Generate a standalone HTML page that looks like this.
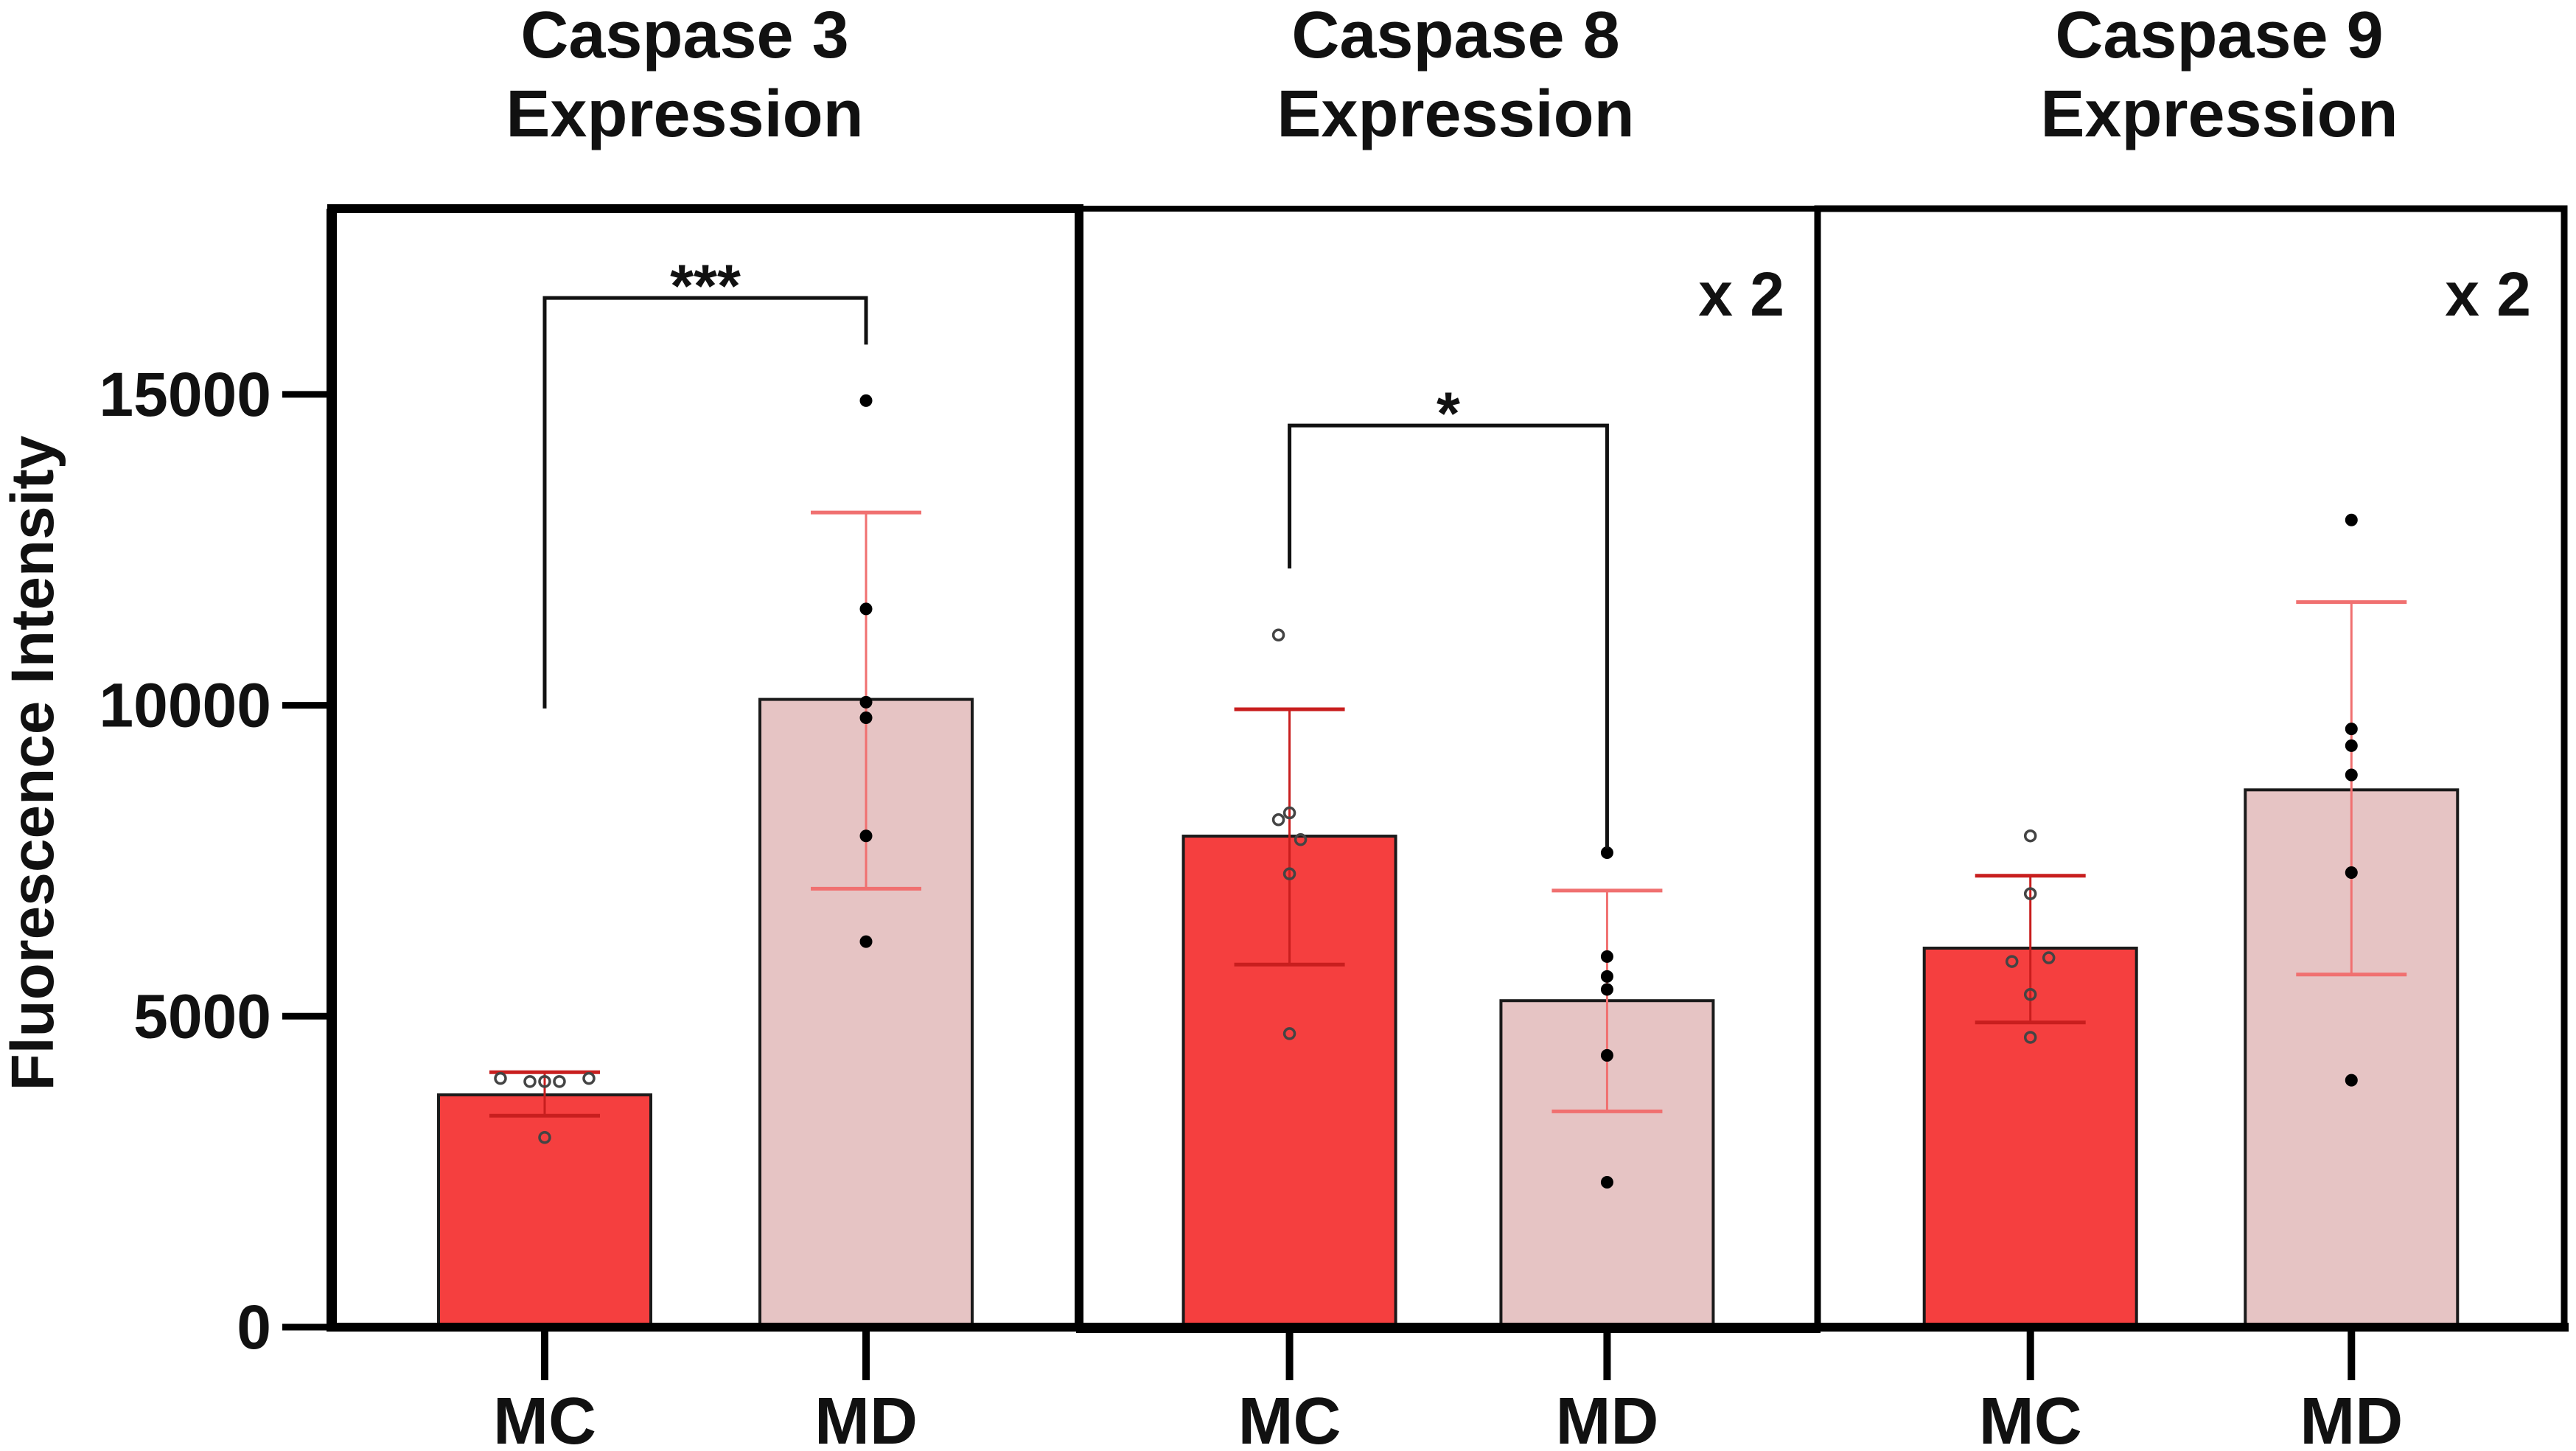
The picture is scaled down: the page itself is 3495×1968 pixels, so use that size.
<!DOCTYPE html>
<html><head><meta charset="utf-8"><style>
html,body{margin:0;padding:0;background:#fff;}
svg{display:block;}
text{font-family:"Liberation Sans",sans-serif;}
</style></head><body>
<svg id="chart" width="3495" height="1968" viewBox="0 0 3495 1968" xmlns="http://www.w3.org/2000/svg"></svg>
<script>
const panelTitles = ["Caspase 3", "Caspase 8", "Caspase 9"];
const groups = ["MC", "MD"];
const barMeans = [[3736, 10095], [7896, 5250], [6095, 8640]];
const errUpper = [[4100, 13100], [9936, 7020], [7260, 11660]];
const errLower = [[3400, 7050], [5830, 3470], [4900, 5670]];
const pointsMC = [[4000, 3950, 3950, 3950, 4000, 3050], [11130, 8270, 8160, 7840, 7290, 4720], [7900, 6970, 5880, 5940, 5350, 4660]];
const pointsMD = [[14900, 11550, 10050, 9800, 7900, 6200], [7630, 5960, 5640, 5430, 4370, 2330], [12980, 9620, 9350, 8880, 7310, 3970]];
const pointOffsets = [[-60, -20, 0, 20, 60, 0], [-15, 0, -15, 15, 0, 0], [0, 0, -25, 25, 0, 0]];
const yTicks = [0, 5000, 10000, 15000];
const yTickLabels = ["0", "5000", "10000", "15000"];
const brackets = [{panel:0, top:16550, left:9950, right:15800, label:"***"}, {panel:1, top:14500, left:12200, right:7700, label:"*"}];
const multLabels = ["", "x 2", "x 2"];

const svg = document.getElementById('chart');
const NS = "http://www.w3.org/2000/svg";
const Y0 = 1800, PER = 421.7/5000;
function y(v){ return Y0 - v*PER; }
const panelLeft = [450, 1464, 2466];
const panelRight = [1464, 2466, 3479];
const titleX = [929, 1975, 3011];
function xc(p, g){ const w = panelRight[p]-panelLeft[p]; return panelLeft[p] + w*(g===0 ? 0.285 : 0.715); }
const BW = 288;
function mk(tag, attrs, txt){ const e = document.createElementNS(NS, tag); for (const k in attrs) e.setAttribute(k, attrs[k]); if (txt!==undefined) e.textContent = txt; svg.appendChild(e); return e; }

panelTitles.forEach((t,p)=>{
  const cx = titleX[p];
  const a = mk('text',{x:cx,y:78,'text-anchor':'middle','font-size':90,'font-weight':'bold',fill:'#111'},t);
  
  
  const b = mk('text',{x:cx,y:185,'text-anchor':'middle','font-size':90,'font-weight':'bold',fill:'#111'},'Expression');
  
  
});

const yt = mk('text',{x:0,y:0,transform:'translate(72,1035) rotate(-90)','text-anchor':'middle','font-size':82,'font-weight':'bold',fill:'#111'},'Fluorescence Intensity');



yTicks.forEach((v,i)=>{
  const l = mk('line',{x1:383,x2:452,y1:y(v),y2:y(v),stroke:'#000','stroke-width':9});
  
  
  const t = mk('text',{x:368,y:y(v)+29,'text-anchor':'end','font-size':84,'font-weight':'bold',fill:'#111'},yTickLabels[i]);
  
  
});

for (let p=0;p<3;p++){
  for (let g=0; g<2; g++){
    const cx = xc(p,g);
    const r = mk('rect',{x:cx-BW/2,y:y(barMeans[p][g]),width:BW,height:Y0-y(barMeans[p][g]),fill:g===0?'#f53f3f':'#e6c4c4',stroke:'#1a1a1a','stroke-width':4});
    
    
    const ec = g===0 ? '#c81e1e' : '#f07070';
    const e1 = mk('line',{x1:cx,x2:cx,y1:y(errUpper[p][g]),y2:y(errLower[p][g]),stroke:ec,'stroke-width':3});
    
    
    [errUpper[p][g], errLower[p][g]].forEach(v=>{
      const c = mk('line',{x1:cx-75,x2:cx+75,y1:y(v),y2:y(v),stroke:ec,'stroke-width':5});
      
      
    });
    const pts = g===0 ? pointsMC[p] : pointsMD[p];
    pts.forEach((v,i)=>{
      const off = g===0 ? pointOffsets[p][i] : 0;
      const c = mk('circle',{cx:cx+off,cy:y(v),r:g===0?7:8,fill:g===0?'none':'#000',stroke:g===0?'#444':'#000','stroke-width':g===0?3.5:1});
      
      
    });
    const xt = mk('line',{x1:cx,x2:cx,y1:Y0,y2:1872,stroke:'#000','stroke-width':10});
    
    
    const xl = mk('text',{x:cx,y:1958,'text-anchor':'middle','font-size':90,'font-weight':'bold',fill:'#111'},groups[g]);
    
    
  }
  const m = multLabels[p];
  if (m){
    const t = mk('text',{x:panelRight[p]-45,y:428,'text-anchor':'end','font-size':84,'font-weight':'bold',fill:'#111'},m);
    
    
  }
}

brackets.forEach(b=>{
  const x1 = xc(b.panel,0), x2 = xc(b.panel,1);
  const pl = mk('polyline',{points:`${x1},${y(b.left)} ${x1},${y(b.top)} ${x2},${y(b.top)} ${x2},${y(b.right)}`,fill:'none',stroke:'#111','stroke-width':5});
  
  
  const t = mk('text',{x:(x1+x2)/2,y:y(b.top)+12,'text-anchor':'middle','font-size':82,'font-weight':'bold',fill:'#111'},b.label);
  
  
});

const frames = [[450,283,1464,1800,12],[1464,283,2466,1804,8],[2466,283,3479,1800,9]];
frames.forEach((f,i)=>{
  const r = mk('rect',{x:f[0],y:f[1],width:f[2]-f[0],height:f[3]-f[1],fill:'none',stroke:'#000','stroke-width':f[4]});
  
  
});
const ax = mk('line',{x1:450,x2:450,y1:283,y2:1806,stroke:'#000','stroke-width':14});


const bx = mk('line',{x1:444,x2:3485,y1:1800,y2:1800,stroke:'#000','stroke-width':12});


</script>
</body></html>
